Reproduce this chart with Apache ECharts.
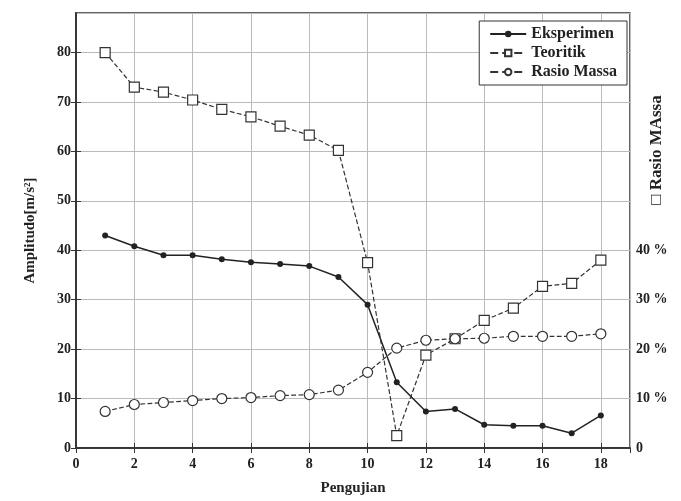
<!DOCTYPE html>
<html>
<head>
<meta charset="utf-8">
<script src="https://cdn.jsdelivr.net/npm/echarts@6/dist/echarts.min.js"></script>
<style>
html, body { margin: 0; padding: 0; background: #fff; }
#chart { width: 681px; height: 501px; }
</style>
</head>
<body>
<div id="chart"></div>
<script>
var pengujian = [1, 2, 3, 4, 5, 6, 7, 8, 9, 10, 11, 12, 13, 14, 15, 16, 17, 18];
var eksperimen = [43, 40.8, 39, 39, 38.2, 37.6, 37.2, 36.8, 34.6, 29, 13.3, 7.4, 7.9, 4.7, 4.5, 4.5, 3.0, 6.6];
var teoritik = [80, 73, 72, 70.4, 68.5, 67, 65.1, 63.3, 60.2, 37.5, 2.5, 18.8, 22.1, 25.8, 28.3, 32.7, 33.3, 38];
var rasioMassa = [7.4, 8.8, 9.2, 9.6, 10, 10.2, 10.6, 10.8, 11.7, 15.3, 20.2, 21.8, 22.1, 22.2, 22.6, 22.6, 22.6, 23.1];

var font = 'Liberation Serif';
var ink = '#222';

function pairs(vals) {
    var res = [];
    for (var i = 0; i < vals.length; i++) {
        res.push([pengujian[i], vals[i]]);
    }
    return res;
}

var myChart = echarts.init(document.getElementById('chart'));

var option = {
    backgroundColor: '#fff',
    animation: false,
    textStyle: { fontFamily: font, color: ink },
    grid: {
        left: 76, right: 51, top: 13, bottom: 51,
        show: true, borderColor: '#333', borderWidth: 1.5
    },
    // label of the right axis, drawn as rotated text
    graphic: [{
        type: 'text',
        x: 657, y: 150,
        rotation: Math.PI / 2,
        style: {
            text: '□ Rasio MAssa',
            fontFamily: font, fontSize: 17, fontWeight: 'bold', fill: ink,
            align: 'center', verticalAlign: 'middle'
        }
    }],
    legend: {
        orient: 'vertical',
        right: 54, top: 21,
        backgroundColor: '#fff',
        borderColor: '#333',
        borderWidth: 1,
        borderRadius: 0,
        padding: [5, 10, 5, 10],
        itemGap: 3,
        itemWidth: 36,
        itemHeight: 8,
        textStyle: { fontFamily: font, fontSize: 16, fontWeight: 'bold', color: ink },
        data: ['Eksperimen', 'Teoritik', 'Rasio Massa']
    },
    xAxis: [{
        type: 'value',
        min: 0, max: 19, interval: 2,
        name: 'Pengujian',
        nameLocation: 'middle',
        nameGap: 33,
        nameTextStyle: { fontFamily: font, fontSize: 15, fontWeight: 'bold', color: ink },
        axisLine: { lineStyle: { color: '#333', width: 1.5 } },
        axisTick: { inside: true, length: 5, lineStyle: { color: '#333' } },
        axisLabel: { showMaxLabel: false, fontFamily: font, fontSize: 14, fontWeight: 'bold', color: ink, margin: 9 },
        splitLine: { show: true, lineStyle: { color: '#bbb', width: 1 } }
    }, {
        type: 'value',
        position: 'top',
        min: 0, max: 19, interval: 2,
        axisLine: { lineStyle: { color: '#333', width: 1.5 } },
        axisTick: { inside: true, length: 5, lineStyle: { color: '#333' } },
        axisLabel: { show: false },
        splitLine: { show: false }
    }],
    yAxis: [{
        type: 'value',
        min: 0, max: 88, interval: 10,
        name: 'Amplitudo[m/s²]',
        nameLocation: 'middle',
        nameGap: 38,
        nameTextStyle: { fontFamily: font, fontSize: 15, fontWeight: 'bold', color: ink },
        axisLine: { show: true, lineStyle: { color: '#333', width: 1.5 } },
        axisTick: { show: true, inside: true, length: 5, lineStyle: { color: '#333' } },
        axisLabel: { showMaxLabel: false, fontFamily: font, fontSize: 14, fontWeight: 'bold', color: ink, margin: 5 },
        splitLine: { show: true, lineStyle: { color: '#bbb', width: 1 } }
    }, {
        type: 'value',
        position: 'right',
        min: 0, max: 88, interval: 10,
        axisLine: { show: true, lineStyle: { color: '#333', width: 1.5 } },
        axisTick: { show: true, inside: true, length: 5, lineStyle: { color: '#333' } },
        axisLabel: {
            showMaxLabel: false,
            fontFamily: font, fontSize: 14, fontWeight: 'bold', color: ink, margin: 6,
            formatter: function (v) {
                if (v === 0) return '0';
                if (v <= 40) return v + ' %';
                return '';
            }
        },
        splitLine: { show: false }
    }],
    series: [{
        name: 'Eksperimen',
        type: 'line',
        data: pairs(eksperimen),
        symbol: 'circle',
        symbolSize: 6,
        itemStyle: { color: '#222' },
        lineStyle: { color: '#222', width: 1.5 }
    }, {
        name: 'Teoritik',
        type: 'line',
        data: pairs(teoritik),
        symbol: 'rect',
        symbolSize: 10,
        itemStyle: { color: '#fff', borderColor: '#333', borderWidth: 1.2 },
        lineStyle: { color: '#333', width: 1.2, type: 'dashed' }
    }, {
        name: 'Rasio Massa',
        type: 'line',
        yAxisIndex: 1,
        data: pairs(rasioMassa),
        symbol: 'circle',
        symbolSize: 10,
        itemStyle: { color: '#fff', borderColor: '#333', borderWidth: 1.2 },
        lineStyle: { color: '#333', width: 1.2, type: 'dashed' }
    }]
};

myChart.setOption(option);
</script>
</body>
</html>
